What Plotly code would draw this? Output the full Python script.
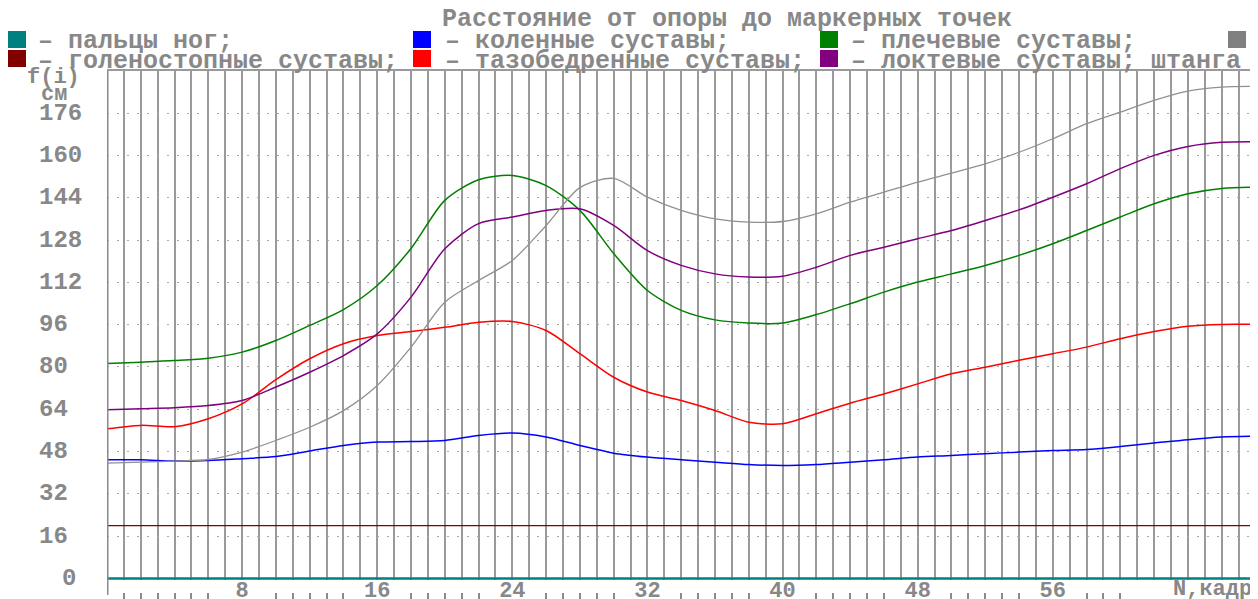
import plotly.graph_objects as go

# ---------------- data ----------------
frames = [0, 2, 4, 6, 8, 10, 12, 14, 16, 18, 20, 22, 24, 26, 28, 30, 32, 34,
          36, 38, 40, 42, 44, 46, 48, 50, 52, 54, 56, 58, 60, 62, 64, 66, 68]

toes = [0, 0, 0, 0, 0, 0, 0, 0, 0, 0, 0, 0, 0, 0, 0, 0, 0, 0,
        0, 0, 0, 0, 0, 0, 0, 0, 0, 0, 0, 0, 0, 0, 0, 0, 0]
ankles = [20, 20, 20, 20, 20, 20, 20, 20, 20, 20, 20, 20, 20, 20, 20, 20, 20, 20,
          20, 20, 20, 20, 20, 20, 20, 20, 20, 20, 20, 20, 20, 20, 20, 20, 20]
knees = [44.9, 44.9, 44.4, 44.6, 45.3, 46.1, 48.2, 50.3, 51.6, 51.8, 52.2, 54.1,
         55.0, 53.5, 50.3, 47.4, 45.9, 44.9, 44.0, 43.1, 42.7, 43.1, 44.0, 44.9,
         45.9, 46.5, 47.2, 47.8, 48.4, 48.8, 49.9, 51.2, 52.5, 53.5, 53.8]
hips = [56.6, 57.9, 57.4, 60.4, 66.0, 75.2, 83.1, 88.8, 91.9, 93.4, 95.0, 96.9,
        97.2, 93.8, 85.0, 76.1, 70.5, 67.3, 63.5, 59.1, 58.5, 62.3, 66.3, 69.8,
        73.6, 77.4, 79.9, 82.5, 85.0, 87.5, 90.7, 93.4, 95.4, 96.1, 96.1]
shoulders = [81.3, 81.8, 82.4, 83.3, 85.6, 90.0, 95.7, 101.7, 110.8, 124.8, 143.0, 150.8,
             152.4, 148.6, 139.2, 122.9, 108.9, 101.4, 97.8, 96.6, 96.6, 99.8, 103.9, 108.3,
             112.1, 115.2, 118.4, 122.2, 126.6, 131.6, 136.7, 141.7, 145.5, 147.5, 148.0]
elbows = [63.8, 64.2, 64.6, 65.4, 67.3, 72.4, 78.0, 84.3, 92.5, 106.4, 124.7, 134.2,
          136.7, 139.2, 139.8, 133.5, 124.0, 118.4, 115.2, 114.0, 114.3, 117.7, 122.2, 125.3,
          128.5, 131.6, 135.4, 139.4, 144.2, 149.3, 155.0, 160.0, 163.4, 165.0, 165.2]
barbell = [43.6, 44.0, 44.4, 45.0, 47.8, 52.2, 57.2, 63.5, 73.0, 87.5, 104.5, 112.7,
           120.3, 133.5, 147.8, 151.3, 144.2, 139.2, 136.0, 134.8, 135.0, 137.9, 142.3, 146.1,
           149.9, 153.3, 156.8, 161.2, 166.3, 172.0, 176.4, 180.8, 184.3, 185.8, 186.1]

y_ticks = [0, 16, 32, 48, 64, 80, 96, 112, 128, 144, 160, 176]
x_labels = [8, 16, 24, 32, 40, 48, 56]

names = ["пальцы ног", "голеностопные суставы", "коленные суставы",
         "тазобедренные суставы", "плечевые суставы", "локтевые суставы", "штанга"]
series = [toes, ankles, knees, hips, shoulders, elbows, barbell]
colors = ["#008080", "#800000", "#0000FF", "#FF0000", "#008000", "#800080", "#909090"]
widths = [2.5, 1.3, 1.5, 1.5, 1.5, 1.5, 1.3]

legend_row1 = ["– пальцы ног;", "– коленные суставы;", "– плечевые суставы;", ""]
legend_row2 = ["– голеностопные суставы;", "– тазобедренные суставы;",
               "– локтевые суставы; штанга"]
legend_colors_row1 = ["#008080", "#0000FF", "#008000", "#808080"]
legend_colors_row2 = ["#800000", "#FF0000", "#800080"]

title_text = "Расстояние от опоры до маркерных точек"

# ---------------- geometry helpers ----------------
# the page body has an 8px margin, so the figure is offset by 8px
OFF = 8
W, H = 1258 - OFF, 599 - OFF
ML, MR, MT, MB = 107 - OFF, 0, 70 - OFF, 0
PW, PH = W - ML - MR, H - MT - MB
X_MAX = 68.15


def px(x):
    # page pixel x -> paper fraction
    return (x - OFF - ML) / PW


def py(y):
    # page pixel y -> paper fraction
    return (H - (y - OFF)) / PH


FONT = "Liberation Mono"
GRAY = "#888888"
FS = 25

fig = go.Figure()
for name, vals, col, w in zip(names, series, colors, widths):
    fig.add_trace(go.Scatter(x=frames, y=vals, mode="lines", name=name,
                             line=dict(color=col, width=w, shape="spline", smoothing=0.8),
                             showlegend=False, hoverinfo="x+y+name"))
# invisible carrier so that the lower tick axis (x2) is rendered
fig.add_trace(go.Scatter(x=frames, y=toes, xaxis="x2", mode="lines",
                         line=dict(color="rgba(0,0,0,0)", width=0),
                         hoverinfo="skip", showlegend=False))

tick_frames = [f for f in range(1, 61) if all(abs(f - L) > 1 for L in x_labels)]

fig.update_layout(
    width=W, height=H,
    margin=dict(l=ML, r=MR, t=MT, b=MB, autoexpand=False),
    showlegend=False,
    plot_bgcolor="white", paper_bgcolor="white",
    font=dict(family=FONT, color=GRAY, size=FS, weight="bold"),
    xaxis=dict(range=[0, X_MAX], domain=[0, 1], automargin=False,
               showgrid=True, gridcolor="#9a9a9a", gridwidth=2,
               tickmode="array", tickvals=list(range(0, 69)),
               ticktext=[str(f) if f in x_labels else "" for f in range(0, 69)],
               ticks="", ticklabelstandoff=-6, zeroline=False, showline=False,
               tickfont=dict(family=FONT, size=22, color=GRAY, weight="bold")),
    xaxis2=dict(range=[0, X_MAX], overlaying="x", anchor="free", automargin=False,
                position=py(592), side="bottom",
                tickmode="array", tickvals=tick_frames, ticks="outside",
                ticklen=6, tickwidth=2, tickcolor="#8a8a8a",
                showticklabels=False, showgrid=False, zeroline=False, showline=False),
    yaxis=dict(range=[-0.57, 192.3], domain=[py(580), 1], automargin=False,
               tickmode="array", tickvals=y_ticks, showticklabels=False,
               showgrid=True, gridcolor="#a8a8a8", gridwidth=1.2, griddash="2px,8px",
               zeroline=False, showline=False, ticks=""),
)

shapes = []
# left axis line (extends below zero like the original)
shapes.append(dict(type="line", xref="x", yref="paper", x0=0, x1=0,
                   y0=py(595), y1=1, line=dict(color="#8a8a8a", width=3), layer="above"))
# top border
shapes.append(dict(type="line", xref="paper", yref="paper", x0=0, x1=1,
                   y0=1, y1=1, line=dict(color="#9a9a9a", width=2), layer="above"))

annotations = []
# title
annotations.append(dict(text=title_text, xref="paper", yref="paper",
                        x=px(727), y=py(20), xanchor="center", yanchor="middle",
                        showarrow=False, font=dict(family=FONT, size=FS, color=GRAY)))

sq_x = [8, 413, 820, 1228]
tx_x = [36, 443, 849]
for i, c in enumerate(legend_colors_row1):
    shapes.append(dict(type="rect", xref="paper", yref="paper",
                       x0=px(sq_x[i]), x1=px(sq_x[i] + 18), y0=py(48), y1=py(31),
                       fillcolor=c, line=dict(width=0)))
    if legend_row1[i]:
        annotations.append(dict(text=legend_row1[i], xref="paper", yref="paper",
                                x=px(tx_x[i]), y=py(42), xanchor="left", yanchor="middle",
                                showarrow=False, font=dict(family=FONT, size=FS, color=GRAY)))
for i, c in enumerate(legend_colors_row2):
    shapes.append(dict(type="rect", xref="paper", yref="paper",
                       x0=px(sq_x[i]), x1=px(sq_x[i] + 18), y0=py(67), y1=py(50),
                       fillcolor=c, line=dict(width=0)))
    annotations.append(dict(text=legend_row2[i], xref="paper", yref="paper",
                            x=px(tx_x[i]), y=py(61), xanchor="left", yanchor="middle",
                            showarrow=False, font=dict(family=FONT, size=FS, color=GRAY)))

# y tick labels (left aligned like the original)
for v in y_ticks:
    lab = str(v)
    annotations.append(dict(text=lab, xref="paper", yref="y",
                            x=px(37 if len(lab) > 1 else 60), y=v,
                            xanchor="left", yanchor="middle", showarrow=False,
                            font=dict(family=FONT, size=24, color=GRAY)))

# axis captions
annotations.append(dict(text="f(i)", xref="paper", yref="paper", x=px(25), y=py(77),
                        xanchor="left", yanchor="middle", showarrow=False,
                        font=dict(family=FONT, size=22, color=GRAY)))
annotations.append(dict(text="см", xref="paper", yref="paper", x=px(39), y=py(94),
                        xanchor="left", yanchor="middle", showarrow=False,
                        font=dict(family=FONT, size=22, color=GRAY)))
annotations.append(dict(text="N,кадр", xref="paper", yref="paper", x=px(1254), y=py(589),
                        xanchor="right", yanchor="middle", showarrow=False,
                        font=dict(family=FONT, size=22, color=GRAY)))

fig.update_layout(shapes=shapes, annotations=annotations)
fig.write_html("out.html")
